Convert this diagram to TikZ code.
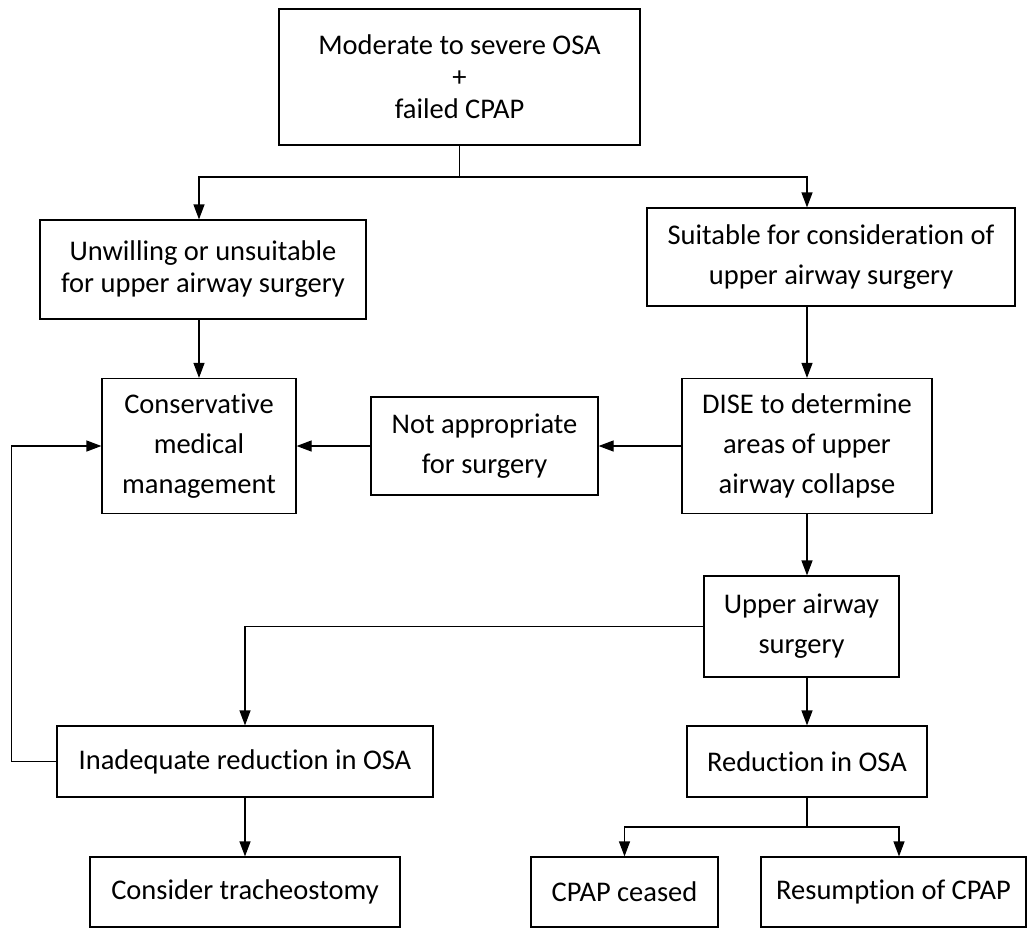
\documentclass[tikz,border=0pt]{standalone}
\usepackage{fontspec}
\setmainfont[Ligatures=NoCommon]{Carlito}
\usetikzlibrary{arrows.meta,calc}

\begin{document}
\begin{tikzpicture}[x=1pt,y=-1pt,>={Triangle[length=15pt,width=11pt]},
  box/.style={draw,line width=1.2pt,align=center,inner sep=0pt,
    font=\fontsize{28.5}{40}\selectfont},
  tight/.style={font=\fontsize{28.5}{32}\selectfont},
  line width=1.2pt]
  \useasboundingbox (0,0) rectangle (1027,930);
  % top
  \node[box,tight,minimum width=361pt,minimum height=136pt] (osa) at (459.5,77)
    {Moderate to severe OSA\\+\\failed CPAP};
  \node[box,tight,minimum width=326pt,minimum height=99pt] (unwill) at (203,269.5)
    {Unwilling or unsuitable\\for upper airway surgery};
  \node[box,minimum width=368pt,minimum height=98pt] (suit) at (831,257)
    {Suitable for consideration of\\upper airway surgery};
  % middle
  \node[box,minimum width=194pt,minimum height=135pt] (cons) at (199,446)
    {Conservative\\medical\\management};
  \node[box,minimum width=227pt,minimum height=98pt] (notapp) at (484.5,446)
    {Not appropriate\\for surgery};
  \node[box,minimum width=250pt,minimum height=135pt] (dise) at (807,446)
    {DISE to determine\\areas of upper\\airway collapse};
  \node[box,minimum width=195pt,minimum height=101pt] (surg) at (801.5,626.5)
    {Upper airway\\surgery};
  % bottom
  \node[box,minimum width=376pt,minimum height=71pt] (inad) at (245,761.5)
    {Inadequate reduction in OSA};
  \node[box,minimum width=240pt,minimum height=71pt] (red) at (807,761.5)
    {Reduction in OSA};
  \node[box,minimum width=310pt,minimum height=70pt] (trach) at (245,892)
    {Consider tracheostomy};
  \node[box,minimum width=187pt,minimum height=70pt] (ceased) at (624.5,892)
    {CPAP ceased};
  \node[box,minimum width=265pt,minimum height=70pt] (resume) at (893.5,892)
    {Resumption of CPAP};

  \coordinate (split) at (459.5,177);
  \coordinate (fork) at (807,827);
  \draw (osa.south) -- (split);
  \draw[->] (split) -| (unwill.north -| cons.north);
  \draw[->] (split) -| (suit.north -| dise.north);
  \draw[->] (unwill.south -| cons.north) -- (cons.north);
  \draw[->] (suit.south -| dise.north) -- (dise.north);
  \draw[->] (dise.west) -- (notapp.east);
  \draw[->] (notapp.west) -- (cons.east);
  \draw[->] (dise.south) -- (dise.south |- surg.north);
  \draw[->] (surg.west) -| (inad.north);
  \draw[->] (surg.south -| red.north) -- (red.north);
  \draw[->] (inad.west) -- ++(-45,0) |- (cons.west);
  \draw[->] (inad.south) -- (trach.north);
  \draw (red.south) -- (fork);
  \draw[->] (fork) -| (ceased.north);
  \draw[->] (fork) -| ([xshift=5.5pt]resume.north);
\end{tikzpicture}
\end{document}
